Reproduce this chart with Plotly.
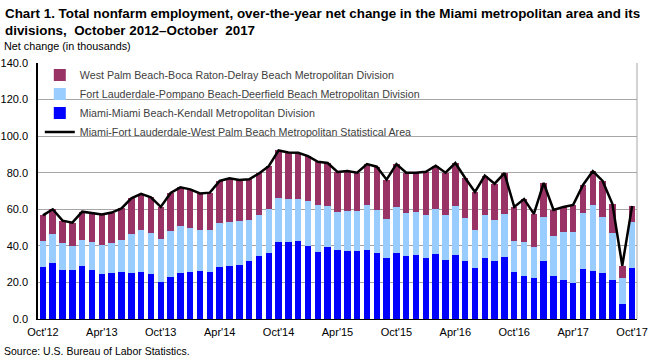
import plotly.graph_objects as go

months = ["Oct'12","Nov'12","Dec'12","Jan'13","Feb'13","Mar'13","Apr'13","May'13","Jun'13","Jul'13","Aug'13","Sep'13",
          "Oct'13","Nov'13","Dec'13","Jan'14","Feb'14","Mar'14","Apr'14","May'14","Jun'14","Jul'14","Aug'14","Sep'14",
          "Oct'14","Nov'14","Dec'14","Jan'15","Feb'15","Mar'15","Apr'15","May'15","Jun'15","Jul'15","Aug'15","Sep'15",
          "Oct'15","Nov'15","Dec'15","Jan'16","Feb'16","Mar'16","Apr'16","May'16","Jun'16","Jul'16","Aug'16","Sep'16",
          "Oct'16","Nov'16","Dec'16","Jan'17","Feb'17","Mar'17","Apr'17","May'17","Jun'17","Jul'17","Aug'17","Sep'17",
          "Oct'17"]

miami = [28.7,30.7,26.9,26.9,29.1,26.9,24.7,25.3,25.8,25.3,25.8,24.7,
         20.4,23.1,25.3,25.8,26.4,25.8,28.5,29.1,29.6,31.8,34.5,36.2,
         42.2,42.2,42.7,40.0,36.7,39.5,37.8,37.3,37.3,37.8,36.2,33.5,
         36.2,34.5,35.1,33.5,35.6,32.4,35.1,31.8,28.0,33.5,31.8,34.0,
         25.8,23.6,22.5,31.8,23.6,21.5,19.8,27.5,26.4,25.3,21.5,8.4,
         28.0]
fort_laud = [14.0,15.8,14.7,13.1,14.2,15.3,15.8,16.3,17.5,21.2,22.9,22.4,
             23.4,25.1,25.6,24.0,22.3,22.9,24.0,24.0,24.0,22.4,22.4,24.0,
             24.0,23.4,22.9,24.5,25.7,22.3,20.7,21.8,21.8,24.6,23.4,21.2,
             25.1,23.5,23.4,23.4,24.6,24.5,26.7,23.5,20.7,23.4,22.4,23.5,
             16.9,18.6,17.0,24.0,21.9,26.1,27.8,30.5,36.0,30.5,25.6,14.1,
             25.1]
west_palm = [14.0,13.5,12.2,12.7,15.4,15.6,16.6,16.6,17.2,19.5,19.7,19.4,
             17.5,20.7,21.1,21.1,20.0,20.4,23.0,23.8,22.4,22.2,22.7,23.4,
             26.0,25.5,25.3,24.6,23.6,23.5,21.9,21.8,20.9,22.3,23.7,21.5,
             23.4,22.0,21.5,23.6,23.6,23.1,23.5,21.8,20.8,21.5,19.8,22.3,
             18.6,23.4,18.0,18.6,14.1,13.7,14.8,15.3,18.5,19.7,15.8,6.6,
             8.7]
msa_total = [56.7,60.0,53.8,52.7,58.7,57.8,57.1,58.2,60.5,66.0,68.4,66.5,
             61.3,68.9,72.0,70.9,68.7,69.1,75.5,76.9,76.0,76.4,79.6,83.6,
             92.2,91.1,90.9,89.1,86.0,85.3,80.4,80.9,80.0,84.7,83.3,76.2,
             84.7,80.0,80.0,80.5,83.8,80.0,85.3,77.1,69.5,78.4,74.0,79.8,
             61.3,65.6,57.5,74.4,59.6,61.3,62.4,73.3,80.9,75.5,62.9,29.1,
             61.8]

tick_idx = list(range(0, 61, 6))
tick_text = [months[i] for i in tick_idx]
y_ticks = [0, 20, 40, 60, 80, 100, 120, 140]

x = list(range(len(months)))

PW, PH = 599, 256

fig = go.Figure()
fig.add_trace(go.Bar(x=x, y=miami, name="Miami-Miami Beach-Kendall Metropolitan Division",
                     marker=dict(color="#0000FF", line=dict(width=0)), legendrank=3))
fig.add_trace(go.Bar(x=x, y=fort_laud, name="Fort Lauderdale-Pompano Beach-Deerfield Beach Metropolitan Division",
                     marker=dict(color="#99CCFF", line=dict(width=0)), legendrank=2))
fig.add_trace(go.Bar(x=x, y=west_palm, name="West Palm Beach-Boca Raton-Delray Beach Metropolitan Division",
                     marker=dict(color="#993366", line=dict(width=0)), legendrank=1))
fig.add_trace(go.Scatter(x=x, y=msa_total, mode="lines",
                         name="Miami-Fort Lauderdale-West Palm Beach Metropolitan Statistical Area",
                         line=dict(color="#000000", width=2.5), legendrank=4))

fig.update_layout(
    width=657, height=361,
    barmode="stack", bargap=0.34,
    paper_bgcolor="white", plot_bgcolor="white",
    margin=dict(l=38, r=20, t=63, b=42),
    font=dict(family="Liberation Sans, Arial, sans-serif", size=11, color="#000000"),
    showlegend=True,
    legend=dict(x=0.003, y=1.01, xanchor="left", yanchor="top",
                bgcolor="rgba(0,0,0,0)", font=dict(size=10.7, color="#404040"),
                traceorder="normal", itemwidth=30, tracegroupgap=0),
    xaxis=dict(range=[-0.5, 60.5], tickmode="array", tickvals=tick_idx, ticktext=tick_text,
               showline=True, linecolor="#000000", linewidth=1, ticks="", showgrid=False,
               automargin=False, ticklabelstandoff=3,
               tickfont=dict(size=11, color="#000000")),
    yaxis=dict(range=[0, 140], tickmode="array", tickvals=y_ticks,
               ticktext=[f"{v:.1f}" for v in y_ticks],
               showline=True, linecolor="#000000", linewidth=1.5, ticks="",
               showgrid=True, gridcolor="#A6A6A6", gridwidth=1, zeroline=False,
               automargin=False, ticklabelstandoff=6,
               tickfont=dict(size=11, color="#000000")),
    shapes=[dict(type="line", xref="paper", yref="paper", x0=1, x1=1, y0=0, y1=1,
                 line=dict(color="#A6A6A6", width=1))],
    annotations=[
        dict(text="<b>Chart 1. Total nonfarm employment, over-the-year net change in the Miami metropolitan area and its<br>divisions,  October 2012–October  2017</b>",
             xref="paper", yref="paper", x=-35/PW, y=1 + 59/PH, xanchor="left", yanchor="top",
             showarrow=False, align="left",
             font=dict(family="Liberation Sans, Arial, sans-serif", size=13.4, color="#000000")),
        dict(text="Net change (in thousands)", xref="paper", yref="paper", x=-36/PW, y=1 + 17/PH,
             xanchor="left", yanchor="middle", showarrow=False,
             font=dict(family="Liberation Sans, Arial, sans-serif", size=10.8, color="#000000")),
        dict(text="Source: U.S. Bureau of Labor Statistics.", xref="paper", yref="paper", x=-36/PW, y=-32/PH,
             xanchor="left", yanchor="middle", showarrow=False,
             font=dict(family="Liberation Sans, Arial, sans-serif", size=10.5, color="#000000")),
    ],
)

fig.write_html("out.html", config={"displayModeBar": False},
               post_script="document.body.style.margin='0';")
